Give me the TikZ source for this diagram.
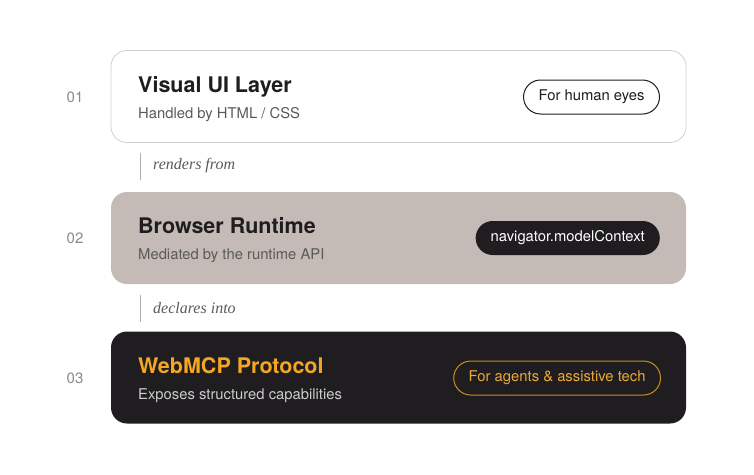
\documentclass[tikz,border=0pt]{standalone}
\usepackage{fontspec}
\setsansfont{TeX Gyre Heros}
\newfontfamily\notefont{Liberation Serif}
\usetikzlibrary{positioning}

\definecolor{boxline}{HTML}{CFCFCF}
\definecolor{taupe}{HTML}{C4BBB6}
\definecolor{ink}{HTML}{1F1D1F}
\definecolor{numgray}{HTML}{8A8A8A}
\definecolor{subgray}{HTML}{5A5A5A}
\definecolor{amber}{HTML}{F5A623}
\definecolor{amberline}{HTML}{C8901F}
\definecolor{ambertext}{HTML}{E9A93A}
\definecolor{lightgray}{HTML}{CDCDCD}

\def\boxw{575}
\def\boxh{92}

\tikzset{
  layer/.style={minimum width=\boxw, minimum height=\boxh, rounded corners=16, inner sep=0},
  title/.style={anchor=base west, inner sep=0, font=\sffamily\bfseries\fontsize{21.5}{24}\selectfont},
  sub/.style={anchor=base west, inner sep=0, font=\sffamily\fontsize{14.8}{17}\selectfont},
  num/.style={text=numgray, inner sep=0, font=\sffamily\fontsize{15}{17}\selectfont},
  pill/.style={anchor=east, minimum height=34, inner xsep=15, rounded corners=17, font=\sffamily\fontsize{14.8}{17}\selectfont},
  note/.style={anchor=west, inner sep=0, text=subgray, font=\notefont\itshape\fontsize{16}{18}\selectfont},
  tick/.style={draw=numgray!70, line width=0.8}
}

\begin{document}
\begin{tikzpicture}[x=1pt,y=-1pt]

\useasboundingbox (0,0) rectangle (754,474);

\node[layer, draw=boxline, fill=white, line width=0.8] (L1) at (398.5,96.5) {};
\node[layer, fill=taupe] (L2) at (398.5,238) {};
\node[layer, fill=ink] (L3) at (398.5,377.5) {};

\node[num] (N1) at (75,97) {01};
\node[num] (N2) at (75,238) {02};
\node[num] (N3) at (75,378) {03};

\node[title, text=ink] (T1) at (138,92) {Visual UI Layer};
\node[sub, text=subgray] (S1) at (138,118) {Handled by HTML / CSS};
\node[title, text=ink] (T2) at (138,233) {Browser Runtime};
\node[sub, text=subgray] (S2) at (138,259) {Mediated by the runtime API};
\node[title, text=amber] (T3) at (138,373) {WebMCP Protocol};
\node[sub, text=lightgray] (S3) at (138,399) {Exposes structured capabilities};

\node[pill, draw=ink, line width=1, text=ink] (P1) at (660,97) {For human eyes};
\node[pill, fill=ink, text=white] (P2) at (660,238) {navigator.modelContext};
\node[pill, draw=amberline, line width=1, text=ambertext] (P3) at (661,378) {For agents \& assistive tech};

\coordinate (A1) at (140,153);
\coordinate (A2) at (140,180);
\coordinate (B1) at (140,295);
\coordinate (B2) at (140,322);

\draw[tick] (A1) -- (A2);
\draw[tick] (B1) -- (B2);

\node[note] (R1) at (153,166) {renders from};
\node[note] (R2) at (153,308) {declares into};

\end{tikzpicture}
\end{document}
